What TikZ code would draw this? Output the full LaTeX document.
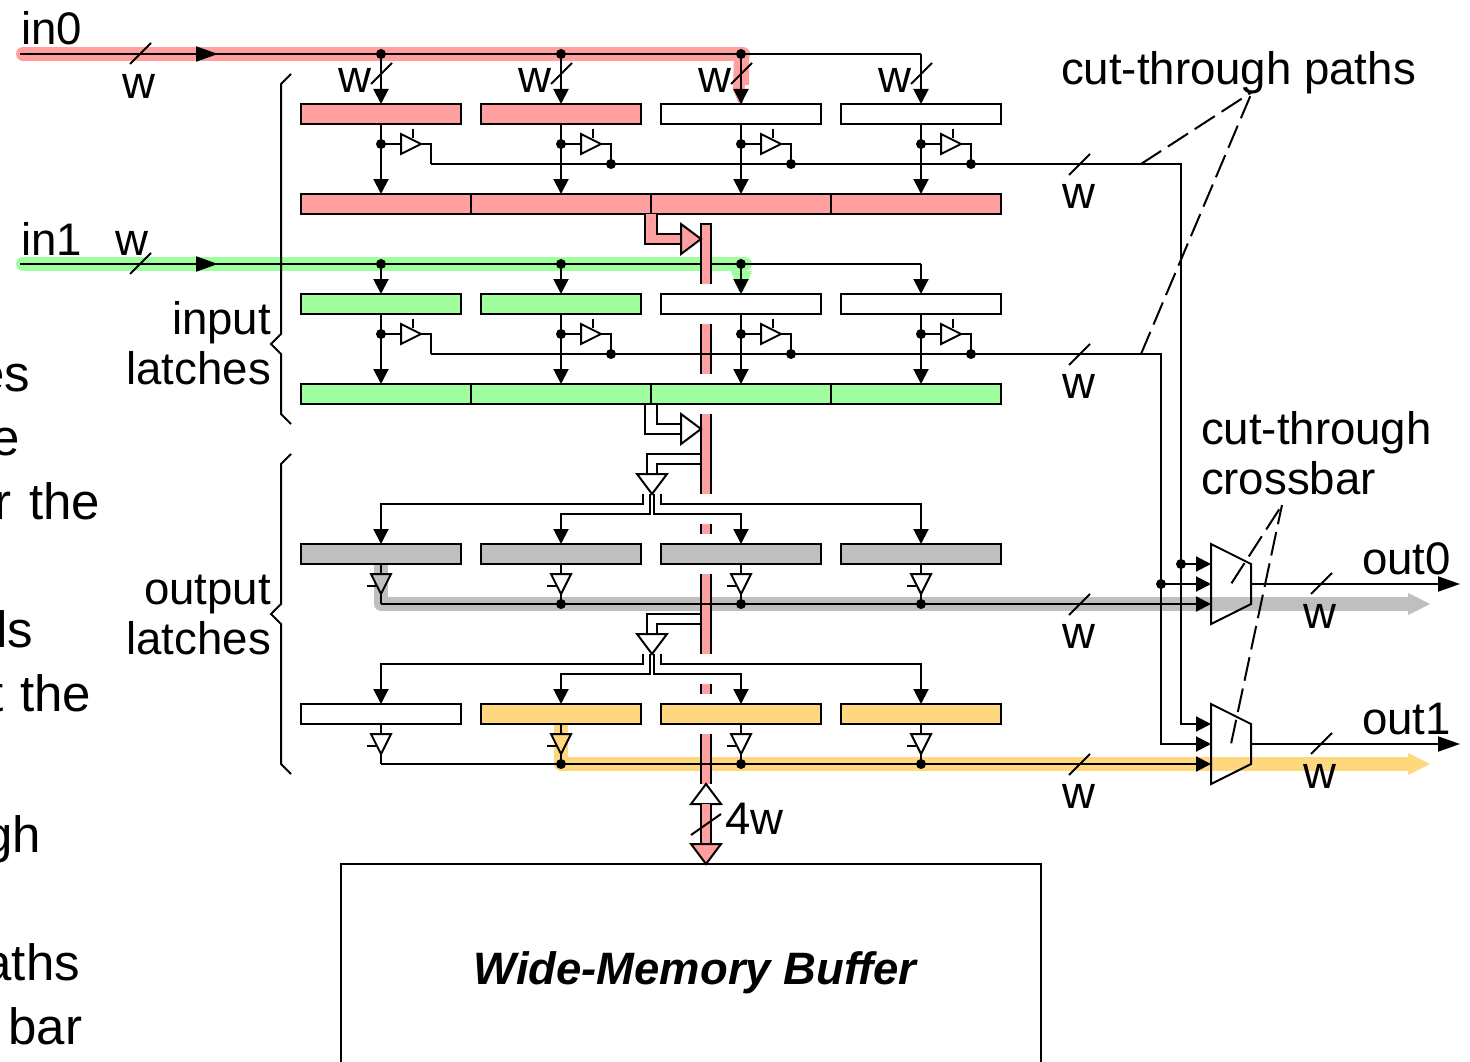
\documentclass[tikz,border=0pt]{standalone}
\usepackage{fontspec}
\setmainfont{Liberation Sans}
\usetikzlibrary{arrows.meta}
\definecolor{hred}{HTML}{FF9F9F}
\definecolor{hgreen}{HTML}{9FFF9F}
\definecolor{hgray}{HTML}{BFBFBF}
\definecolor{horange}{HTML}{FFD77F}
\tikzset{
  x=1pt,y=-1pt,
  wire/.style={line width=2pt,line cap=butt,line join=miter},
  arr/.style={wire,-{Triangle[length=15pt,width=15pt,sep=0pt]}},
  longarr/.style={wire,-{Triangle[length=22pt,width=15pt,sep=0pt]}},
  glow/.style={line width=14pt,line join=round},
  latch/.style={draw,line width=2pt,minimum width=160pt,minimum height=20pt,inner sep=0pt,outer sep=0pt},
  gate/.style={draw,line width=2pt,line join=miter,fill=white},
  dotnode/.style={circle,fill=black,minimum size=10pt,inner sep=0pt,outer sep=0pt},
  lab/.style={font=\fontsize{45.6}{50}\selectfont,inner sep=0pt,outer sep=0pt},
  bodytext/.style={font=\fontsize{51}{55}\selectfont,inner sep=0pt,outer sep=0pt},
  leader/.style={line width=2pt,dash pattern=on 24pt off 8pt},
  ticks/.style={line width=2pt},
}
\begin{document}
\begin{tikzpicture}
\useasboundingbox (0,0) rectangle (1470,1062);
\clip (0,0) rectangle (1470,1062);
% ---- coordinates
\foreach \n/\x in {a/381,b/561,c/741,d/921}{
  \coordinate (top\n) at (\x,54);
  \coordinate (mid\n) at (\x,264);
}
\coordinate (in0) at (20,54);
\coordinate (in1) at (20,264);
% ---- coloured highlights
\draw[glow,hred,line cap=round] (23,54) -- (743,54);
\fill[hred] (734,54) -- (749,54) -- (749,85) -- (745,85) -- (743,104) -- (739,104) -- (733,90) -- cycle;
\draw[glow,hgreen,line cap=round] (23,264) -- (745,264);
\fill[hgreen] (731,271) -- (752,271) -- (743,292) -- (739,292) -- cycle;
\draw[glow,hgray,line cap=round] (381,564) -- (381,604) -- (1408,604);
\fill[hgray] (1408,593) -- (1430,604) -- (1408,615) -- cycle;
\draw[glow,horange,line cap=round] (561,724) -- (561,764) -- (1408,764);
\fill[horange] (1408,753) -- (1430,764) -- (1408,775) -- cycle;
% ---- in1 rail lies beneath the bus
\draw[wire] (in1) -- (mida);
\draw[wire] (mida) -- (midb) -- (midc) -- (midd);
% ---- memory bus pieces
\foreach \p/\q in {224/284,324/374,414/494,524/534,574/654,684/694,734/784}{
  \fill[hred] (701,\p) rectangle (711,\q);
  \draw[wire] (701,\p) -- (701,\q) (711,\p) -- (711,\q);
}
\draw[wire] (700,224) -- (712,224);
% ---- latches
\foreach \n/\x/\c in {a/381/hred,b/561/hred,c/741/white,d/921/white}
  \node[latch,fill=\c] (r1\n) at (\x,114) {};
\foreach \n/\x/\c in {a/381/hgreen,b/561/hgreen,c/741/white,d/921/white}
  \node[latch,fill=\c] (r3\n) at (\x,304) {};
\foreach \n/\x in {a/381,b/561,c/741,d/921}
  \node[latch,fill=hgray] (r5\n) at (\x,554) {};
\foreach \n/\x/\c in {a/381/white,b/561/horange,c/741/horange,d/921/horange}
  \node[latch,fill=\c] (r6\n) at (\x,714) {};
\foreach \r/\y/\c in {r2/204/hred,r4/394/hgreen}{
  \node[latch,fill=\c,minimum width=170pt] (\r a) at (386,\y) {};
  \node[latch,fill=\c,minimum width=180pt] (\r b) at (561,\y) {};
  \node[latch,fill=\c,minimum width=180pt] (\r c) at (741,\y) {};
  \node[latch,fill=\c,minimum width=170pt] (\r d) at (916,\y) {};
}
% ---- input rails
\draw[wire] (in0) -- (topa) -- (topb) -- (topc) -- (topd);
\draw[longarr] (in0) -- (218,54);
\draw[longarr] (in1) -- (218,264);
\foreach \n/\x in {a/381,b/561,c/741,d/921}{
  \draw[arr] (top\n) -- (\x,104);
  \draw[arr] (mid\n) -- (\x,294);
  \draw[arr] (r1\n.south) -- (\x,194);
  \draw[arr] (r3\n.south) -- (\x,384);
}
\foreach \n in {a,b,c}{
  \node[dotnode] at (top\n) {};
  \node[dotnode] at (mid\n) {};
}
% ---- input tri-state buffers
\foreach \n/\x in {a/381,b/561,c/741,d/921}{
 \foreach \y/\o/\t in {144/164/u,334/354/v}{
  \coordinate (\t in\n) at (\x,\y);
  \coordinate (\t ap\n) at (\x+40,\y);
  \coordinate (\t end\n) at (\x+50,\o);
  \draw[wire] (\t in\n) -- (\x+20,\y);
  \draw[gate] (\x+20,\y-10) -- (\t ap\n) -- (\x+20,\y+10) -- cycle;
  \draw[ticks] (\x+32,\y-15) -- (\x+32,\y-6);
  \draw[wire] (\t ap\n) -- (\x+50,\y) -- (\t end\n);
  \node[dotnode] at (\t in\n) {};
 }
}
\foreach \n in {b,c,d}{
  \node[dotnode] at (uend\n) {};
  \node[dotnode] at (vend\n) {};
}
% ---- cut-through wires and crossbar
\coordinate (m0a) at (1211,564);
\coordinate (m0b) at (1211,584);
\coordinate (m0c) at (1211,604);
\coordinate (m1a) at (1211,724);
\coordinate (m1b) at (1211,744);
\coordinate (m1c) at (1211,764);
\coordinate (j0) at (1181,564);
\coordinate (j1) at (1161,584);
\draw[wire] (uenda) -- (1181,164) -- (j0);
\draw[arr] (j0) -- (1181,724) -- (m1a);
\draw[wire] (venda) -- (1161,354) -- (j1);
\draw[arr] (j1) -- (1161,744) -- (m1b);
\draw[arr] (j0) -- (m0a);
\draw[arr] (j1) -- (m0b);
\node[dotnode] at (j0) {};
\node[dotnode] at (j1) {};
% ---- fat feeds into bus
\fill[hred] (645,214) -- (657,214) -- (657,234) -- (681,234) -- (681,244) -- (645,244) -- cycle;
\draw[wire] (657,214) -- (657,234) -- (681,234);
\draw[wire] (645,214) -- (645,244) -- (681,244);
\draw[gate,fill=hred] (681,224) -- (701,239) -- (681,254) -- cycle;
\draw[wire] (657,404) -- (657,424) -- (681,424);
\draw[wire] (645,404) -- (645,434) -- (681,434);
\draw[gate] (681,414) -- (701,429) -- (681,444) -- cycle;
% ---- bus to output latches
\foreach \y/\u/\r in {454/544/5,614/704/6}{
  \pgfmathsetmacro{\ya}{\y+10}
  \pgfmathsetmacro{\yb}{\y+20}
  \pgfmathsetmacro{\yc}{\y+40}
  \pgfmathsetmacro{\yd}{\y+50}
  \pgfmathsetmacro{\ye}{\y+60}
  \draw[wire] (701,\y) -- (647,\y) -- (647,\yb);
  \draw[wire] (701,\ya) -- (657,\ya) -- (657,\yb);
  \draw[gate] (637,\yb) -- (667,\yb) -- (652,\yc) -- cycle;
  \draw[arr] (643,\yc) -- (643,\yd) -- (381,\yd) -- (381,\u);
  \draw[arr] (650,\yc) -- (650,\ye) -- (561,\ye) -- (561,\u);
  \draw[arr] (654,\yc) -- (654,\ye) -- (741,\ye) -- (741,\u);
  \draw[arr] (661,\yc) -- (661,\yd) -- (921,\yd) -- (921,\u);
}
% ---- output wires
\draw[arr] (381,604) -- (m0c);
\draw[arr] (381,764) -- (m1c);
\foreach \n/\x/\c in {a/381/hgray,b/561/white,c/741/white,d/921/white}{
  \draw[wire] (r5\n.south) -- (\x,574);
  \draw[wire] (\x,594) -- (\x,604);
  \draw[gate,fill=\c] (\x-10,574) -- (\x+10,574) -- (\x,594) -- cycle;
  \draw[ticks] (\x-14,586) -- (\x-5,586);
}
\foreach \n/\x/\c in {a/381/white,b/561/horange,c/741/white,d/921/white}{
  \draw[wire] (r6\n.south) -- (\x,734);
  \draw[wire] (\x,754) -- (\x,764);
  \draw[gate,fill=\c] (\x-10,734) -- (\x+10,734) -- (\x,754) -- cycle;
  \draw[ticks] (\x-14,746) -- (\x-5,746);
}
\foreach \x in {561,741,921}{
  \node[dotnode] at (\x,604) {};
  \node[dotnode] at (\x,764) {};
}
% ---- crossbar muxes
\node[inner sep=0pt] (mux0) at (1231,584) {};
\node[inner sep=0pt] (mux1) at (1231,744) {};
\draw[wire] (1211,544) -- (1251,564) -- (1251,604) -- (1211,624) -- cycle;
\draw[wire] (1211,704) -- (1251,724) -- (1251,764) -- (1211,784) -- cycle;
\draw[longarr] (1251,584) -- (1460,584);
\draw[longarr] (1251,744) -- (1460,744);
% ---- braces
\draw[wire] (291,74) -- (281,84) -- (281,334) -- (271,344) -- (281,354) -- (281,414) -- (291,424);
\draw[wire] (291,454) -- (281,464) -- (281,604) -- (271,614) -- (281,624) -- (281,764) -- (291,774);
% ---- bus slashes
\foreach \x/\y in {130/64,130/274,371/84,551/84,731/84,911/84,1069/175,1069/365,1069/615,1069/775,1311/594,1311/754}
  \draw[ticks] (\x,\y) -- (\x+21,\y-21);
% ---- leaders
\coordinate (cp) at (1252,92);
\coordinate (cb) at (1282,505);
\draw[leader] (1141,164) -- (cp);
\draw[leader] (1141,354) -- (cp);
\draw[leader] (mux0) -- (cb);
\draw[leader] (mux1) -- (cb);
% ---- memory port
\draw[gate] (706,784) -- (721,804) -- (691,804) -- cycle;
\fill[hred] (701,804) rectangle (711,844);
\draw[wire] (701,804) -- (701,844) (711,804) -- (711,844);
\draw[gate,fill=hred] (691,844) -- (721,844) -- (706,864) -- cycle;
\draw[ticks] (691,835) -- (721,814);
\draw[wire] (341,1070) -- (341,864) -- (1041,864) -- (1041,1070);
% ---- labels
\node[lab,anchor=base west] (tin0) at (21,45) {in0};
\node[lab,anchor=base west] (tin1) at (21,255) {in1};
\foreach \n/\x/\y in {w1/139/99,w2/132/255,w3/355/93,w4/535/93,w5/715/93,w6/895/93,w7/1079/208,w8/1079/398,w9/1079/648,w10/1079/808,w11/1320/628,w12/1320/788}
  \node[lab,anchor=base] (\n) at (\x,\y) {w};
\node[lab,anchor=base west] (tcp) at (1061,85) {cut-through paths};
\node[lab,anchor=base west] (tcb1) at (1201,444) {cut-through};
\node[lab,anchor=base west] (tcb2) at (1201,494) {crossbar};
\node[lab,anchor=base west] (to0) at (1362,574) {out0};
\node[lab,anchor=base west] (to1) at (1362,734) {out1};
\node[lab,anchor=base east] (til1) at (271,334) {input};
\node[lab,anchor=base east] (til2) at (271,384) {latches};
\node[lab,anchor=base east] (tol1) at (271,604) {output};
\node[lab,anchor=base east] (tol2) at (271,654) {latches};
\node[lab,anchor=base west] (t4w) at (725,834) {4w};
\node[lab,anchor=base,font=\fontsize{45.4}{50}\selectfont\bfseries\itshape] (twm) at (695,984) {Wide-Memory Buffer};
% ---- cropped text at the left edge
\foreach \n/\t/\x/\y in {c1/es/30/391,c2/e/20/455,c3/r\hspace{3pt} the/100/519,c4/ls/33/647,c5/t\hspace{2pt} the/91/711,c6/gh/41/852,c7/aths/80/980,c8/bar/82/1044}
  \node[bodytext,anchor=base east] (\n) at (\x,\y) {\t};
\end{tikzpicture}
\end{document}
